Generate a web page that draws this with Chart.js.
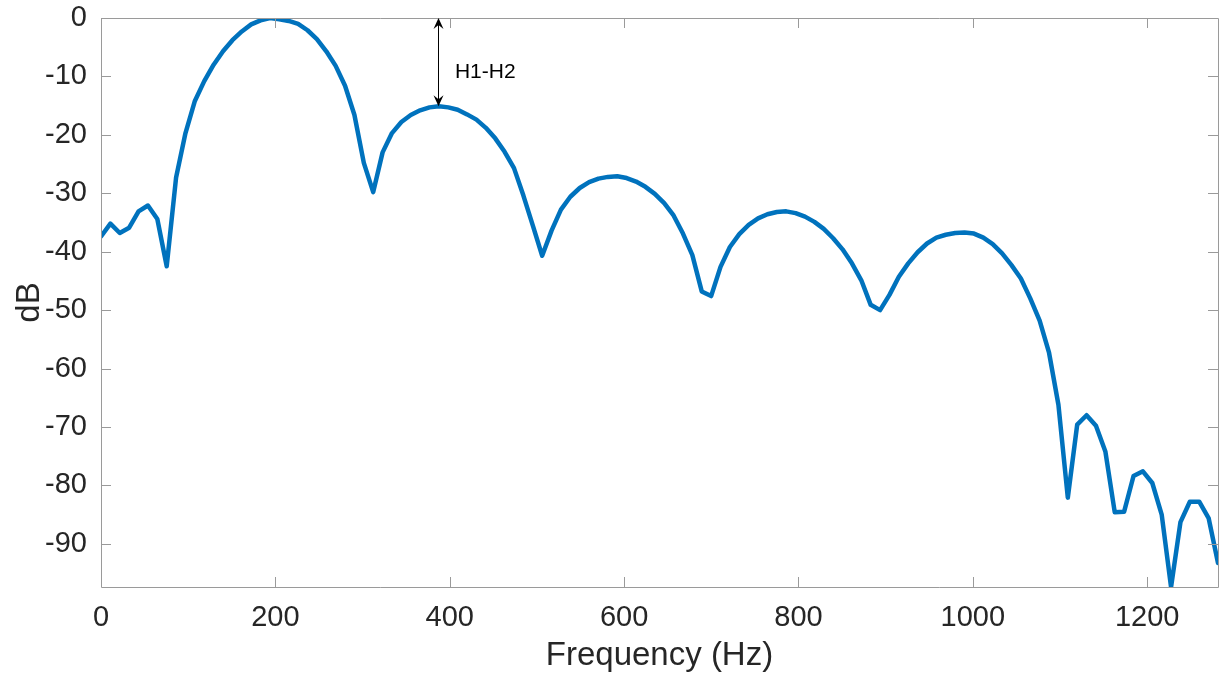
<!DOCTYPE html>
<html>
<head>
<meta charset="utf-8">
<script src="https://cdn.jsdelivr.net/npm/chart.js@4.4.1/dist/chart.umd.min.js"></script>
<style>
  html, body { margin: 0; padding: 0; background: #ffffff; }
  #wrap { width: 1225px; height: 676px; position: relative; }
</style>
</head>
<body>
<div id="wrap"><canvas id="c" width="1225" height="676"></canvas></div>
<script>
// Frequency bins (Hz)
const frequencies = [
  0, 10.77, 21.53, 32.30, 43.07, 53.83, 64.60, 75.37, 86.13, 96.90,
  107.67, 118.43, 129.20, 139.97, 150.73, 161.50, 172.27, 183.03, 193.80, 204.57,
  215.33, 226.10, 236.87, 247.63, 258.40, 269.17, 279.93, 290.70, 301.46, 312.23,
  323.00, 333.76, 344.53, 355.30, 366.06, 376.83, 387.60, 398.36, 409.13, 419.90,
  430.66, 441.43, 452.20, 462.96, 473.73, 484.50, 495.26, 506.03, 516.80, 527.56,
  538.33, 549.10, 559.86, 570.63, 581.40, 592.16, 602.93, 613.70, 624.46, 635.23,
  646.00, 656.76, 667.53, 678.30, 689.06, 699.83, 710.60, 721.36, 732.13, 742.90,
  753.66, 764.43, 775.20, 785.96, 796.73, 807.50, 818.26, 829.03, 839.80, 850.56,
  861.33, 872.10, 882.86, 893.63, 904.39, 915.16, 925.93, 936.69, 947.46, 958.23,
  968.99, 979.76, 990.53, 1001.29, 1012.06, 1022.83, 1033.59, 1044.36, 1055.13, 1065.89,
  1076.66, 1087.43, 1098.19, 1108.96, 1119.73, 1130.49, 1141.26, 1152.03, 1162.79, 1173.56,
  1184.33, 1195.09, 1205.86, 1216.63, 1227.39, 1238.16, 1248.93, 1259.69, 1270.46, 1281.23
];

// Spectrum level (dB)
const levels = [
  -37.4, -35.2, -36.8, -35.9, -33.1, -32.1, -34.4, -42.5, -27.3, -19.7,
  -14.2, -10.8, -8.0, -5.7, -3.8, -2.3, -1.1, -0.4, 0, -0.2,
  -0.5, -1.0, -2.1, -3.6, -5.7, -8.2, -11.6, -16.6, -24.8, -29.8,
  -23.0, -19.7, -17.8, -16.6, -15.8, -15.3, -15.1, -15.3, -15.7, -16.5,
  -17.4, -18.8, -20.6, -22.9, -25.7, -30.4, -35.5, -40.7, -36.4, -32.8,
  -30.6, -29.1, -28.1, -27.5, -27.2, -27.1, -27.4, -28.0, -28.9, -30.1,
  -31.7, -33.8, -36.9, -40.6, -46.8, -47.6, -42.6, -39.2, -37.0, -35.4,
  -34.3, -33.6, -33.2, -33.1, -33.4, -34.0, -34.9, -36.1, -37.7, -39.6,
  -42.0, -44.9, -49.1, -50.0, -47.4, -44.3, -42.0, -40.1, -38.6, -37.6,
  -37.1, -36.8, -36.7, -36.9, -37.6, -38.7, -40.3, -42.3, -44.6, -48.0,
  -51.8, -57.3, -66.2, -82.1, -69.6, -68.0, -69.8, -74.2, -84.6, -84.5,
  -78.4, -77.6, -79.6, -85.0, -97.4, -86.3, -82.8, -82.8, -85.6, -93.3
];

const xTickValues = [0, 200, 400, 600, 800, 1000, 1200];
const yTickValues = [-90, -80, -70, -60, -50, -40, -30, -20, -10, 0];

const xTitle = 'Frequency (Hz)';
const yTitle = 'dB';
const annotationText = 'H1-H2';

// Annotation anchor (data units)
const arrowFreq = 387;
const arrowTop = 0;
const arrowBottom = -15.1;
const labelFreq = 406;
const labelLevel = -10.2;

const FONT = '"Liberation Sans", Arial, Helvetica, sans-serif';
const AXIS_COLOR = '#9a9a9a';
const TEXT_COLOR = '#262626';

const points = frequencies.map((f, i) => ({ x: f, y: levels[i] }));

function arrowHead(ctx, x, y, dir) {
  // MATLAB 'vback2' style head; dir = +1 points up, -1 points down
  const len = 11, half = 5, notch = 7;
  ctx.beginPath();
  ctx.moveTo(x, y);
  ctx.lineTo(x - half, y + dir * len);
  ctx.lineTo(x, y + dir * notch);
  ctx.lineTo(x + half, y + dir * len);
  ctx.closePath();
  ctx.fill();
}

const framePlugin = {
  id: 'frame',
  afterDatasetsDraw(chart) {
    const { ctx, chartArea: a, scales: { x, y } } = chart;
    ctx.save();
    ctx.strokeStyle = AXIS_COLOR;
    ctx.lineWidth = 1;
    ctx.beginPath();
    ctx.rect(Math.round(a.left) + 0.5, Math.round(a.top) + 0.5,
             Math.round(a.right - a.left), Math.round(a.bottom - a.top));
    ctx.stroke();
    const tl = 10;
    ctx.beginPath();
    xTickValues.forEach(v => {
      const px = Math.round(x.getPixelForValue(v)) + 0.5;
      ctx.moveTo(px, a.bottom); ctx.lineTo(px, a.bottom - tl);
      ctx.moveTo(px, a.top); ctx.lineTo(px, a.top + tl);
    });
    yTickValues.forEach(v => {
      const py = Math.round(y.getPixelForValue(v)) + 0.5;
      ctx.moveTo(a.left, py); ctx.lineTo(a.left + tl, py);
      ctx.moveTo(a.right, py); ctx.lineTo(a.right - tl, py);
    });
    ctx.stroke();

    // double arrow annotation
    const ax = Math.round(x.getPixelForValue(arrowFreq)) + 0.5;
    const y1 = y.getPixelForValue(arrowTop);
    const y2 = y.getPixelForValue(arrowBottom);
    ctx.strokeStyle = '#000000';
    ctx.fillStyle = '#000000';
    ctx.lineWidth = 1;
    ctx.beginPath();
    ctx.moveTo(ax, y1 + 6);
    ctx.lineTo(ax, y2 - 6);
    ctx.stroke();
    arrowHead(ctx, ax, y1, 1);
    arrowHead(ctx, ax, y2, -1);

    ctx.fillStyle = '#000000';
    ctx.font = '21px ' + FONT;
    ctx.textAlign = 'left';
    ctx.textBaseline = 'alphabetic';
    ctx.fillText(annotationText, x.getPixelForValue(labelFreq), y.getPixelForValue(labelLevel));
    ctx.restore();
  }
};

new Chart(document.getElementById('c'), {
  type: 'line',
  data: {
    datasets: [{
      data: points,
      borderColor: '#0072BD',
      borderWidth: 4.5,
      pointRadius: 0,
      tension: 0,
      fill: false,
      borderJoinStyle: 'round',
      borderCapStyle: 'round'
    }]
  },
  options: {
    responsive: false,
    animation: false,
    devicePixelRatio: 1,
    layout: { padding: { top: 18, right: 7, left: 0, bottom: 0 } },
    plugins: { legend: { display: false }, tooltip: { enabled: false } },
    scales: {
      x: {
        type: 'linear',
        min: frequencies[0],
        max: frequencies[frequencies.length - 1],
        grid: { display: false, drawTicks: false },
        border: { display: false },
        afterBuildTicks: s => { s.ticks = xTickValues.map(v => ({ value: v })); },
        afterFit: s => { s.height = 89; s.paddingLeft = 0; s.paddingRight = 0; },
        ticks: {
          color: TEXT_COLOR,
          font: { family: FONT, size: 29 },
          padding: 14,
          maxRotation: 0,
          autoSkip: false,
          callback: v => String(v)
        },
        title: {
          display: true, text: xTitle, color: TEXT_COLOR,
          font: { family: FONT, size: 33 }, padding: { top: 0, bottom: 0 }
        }
      },
      y: {
        type: 'linear',
        min: Math.min(...levels),
        max: 0,
        grid: { display: false, drawTicks: false },
        border: { display: false },
        afterBuildTicks: s => { s.ticks = yTickValues.map(v => ({ value: v })); },
        afterFit: s => { s.width = 101; s.paddingTop = 0; s.paddingBottom = 0; },
        ticks: {
          color: TEXT_COLOR,
          font: { family: FONT, size: 29 },
          padding: 14,
          autoSkip: false,
          callback: v => String(v)
        },
        title: {
          display: true, text: yTitle, color: TEXT_COLOR,
          font: { family: FONT, size: 33 }, padding: { top: 10, bottom: 0 }
        }
      }
    }
  },
  plugins: [framePlugin]
});
</script>
</body>
</html>
